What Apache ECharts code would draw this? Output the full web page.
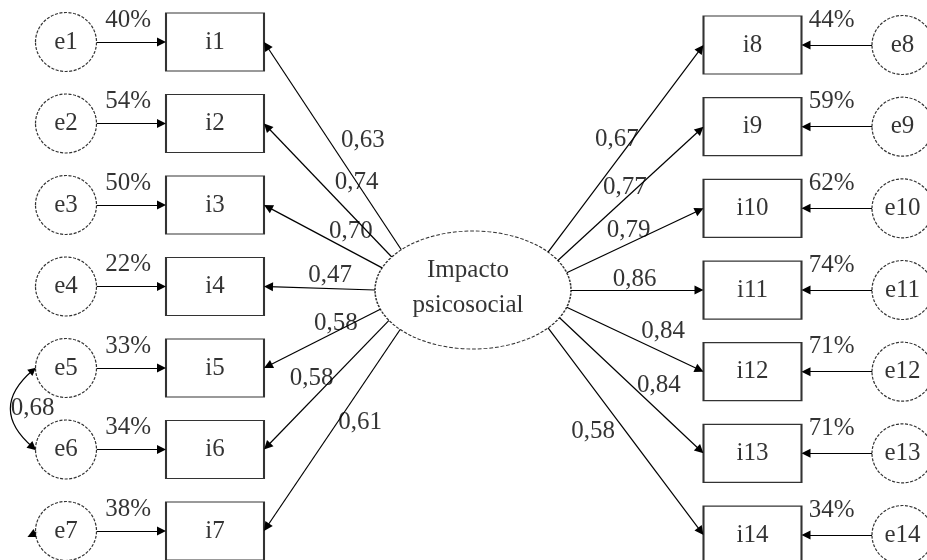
<!DOCTYPE html>
<html><head><meta charset="utf-8">
<script src="https://cdn.jsdelivr.net/npm/echarts@6/dist/echarts.min.js"></script>
<style>html,body{margin:0;padding:0;background:#fff}#c{width:927px;height:560px}</style>
</head><body><div id="c"></div>
<script>
// ---------- data ----------
const factorName = 'Impacto\npsicosocial';
const leftIndicators = ['i1','i2','i3','i4','i5','i6','i7'];
const leftErrors = ['e1','e2','e3','e4','e5','e6','e7'];
const leftLoadings = [0.63,0.74,0.70,0.47,0.58,0.58,0.61];
const leftR2 = [40,54,50,22,33,34,38];
const rightIndicators = ['i8','i9','i10','i11','i12','i13','i14'];
const rightErrors = ['e8','e9','e10','e11','e12','e13','e14'];
const rightLoadings = [0.67,0.77,0.79,0.86,0.84,0.84,0.58];
const rightR2 = [44,59,62,74,71,71,34];
const covErrors = ['e5','e6'];
const covValue = 0.68;

// ---------- layout (positions / styles) ----------
const FONT = '"Liberation Serif","Times New Roman",serif';
const FS = 25;
const TXT = '#000';
const LAY = {
  left:  {y0: 42, step: 81.5, errX: 66, boxX: 215},
  right: {y0: 45, step: 81.67, errX: 902.5, boxX: 752.5},
  boxW: 98, boxH: 58, errW: 61, errH: 59,
  factor: {x: 473, y: 290, rx: 98, ry: 59},
  leftAngles: [137,146,158,180,199,211,222],
  rightAngles: [40,30,17,0,-17,-28,-40],
  // [t along edge, dx, dy]
  leftLab: [[.527,34,0],[.556,36,0],[.587,38,0],[.405,0,-13],[.237,-17,0],[.45,-21,0],[.463,23,0]],
  rightLab: [[.546,-16,0],[.549,-13,0],[.452,0,-13],[.48,0,-11],[.704,0,-21],[.496,28,0],[.502,-33,0]],
  pctLeft: {dx: -3, dy: -22}, pctRight: {dx: -5, dy: -25},
  arrowBack: 4.5, covCurv: -0.585
};
const fmt = v => v.toFixed(2).replace('.', ',');
const ellipsePath = 'path://M0,50A50,50,0,1,1,100,50A50,50,0,1,1,0,50Z';

const nodes = [], lines = [], texts = [];
const errPos = {};
function ePt(deg){ const a = deg*Math.PI/180; const f = LAY.factor;
  return [f.x + f.rx*Math.cos(a), f.y - f.ry*Math.sin(a)]; }
function shorten(s, e, d){ const dx=e[0]-s[0], dy=e[1]-s[1], L=Math.hypot(dx,dy);
  return [e[0]-dx/L*d, e[1]-dy/L*d]; }
const boxStyle = {color:'#fff', borderColor:'#000', borderWidth:1.6};
const circStyle = {color:'#fff', borderColor:'#000', borderWidth:1.2, borderType:[3,1.5]};

// factor
nodes.push({name: factorName, value:[LAY.factor.x, LAY.factor.y], symbol: ellipsePath,
  symbolSize:[LAY.factor.rx*2, LAY.factor.ry*2], itemStyle: circStyle,
  label:{lineHeight:35, offset:[-5,-2]}});

function side(items, errs, loads, r2, cfg, angles, labs, pct, isLeft){
  items.forEach((name, i) => {
    const y = cfg.y0 + i*cfg.step;
    nodes.push({name, value:[cfg.boxX, y], symbol:'rect', symbolSize:[LAY.boxW, LAY.boxH], itemStyle: boxStyle});
    nodes.push({name: errs[i], value:[cfg.errX, y], symbol: ellipsePath, symbolSize:[LAY.errW, LAY.errH], itemStyle: circStyle});
    errPos[errs[i]] = [cfg.errX, y];
    // error -> indicator
    const es = isLeft ? [cfg.errX + LAY.errW/2, y] : [cfg.errX - LAY.errW/2, y];
    const be = isLeft ? [cfg.boxX - LAY.boxW/2, y] : [cfg.boxX + LAY.boxW/2, y];
    lines.push({coords:[es, shorten(es, be, LAY.arrowBack)]});
    texts.push({value:[(es[0]+be[0])/2 + pct.dx, y + pct.dy], text: r2[i] + '%'});
    // factor -> indicator
    const s = ePt(angles[i]);
    const e = isLeft ? [cfg.boxX + LAY.boxW/2, y] : [cfg.boxX - LAY.boxW/2, y];
    lines.push({coords:[s, shorten(s, e, LAY.arrowBack)]});
    const [t, dx, dy] = labs[i];
    texts.push({value:[s[0] + t*(e[0]-s[0]) + dx, s[1] + t*(e[1]-s[1]) + dy], text: fmt(loads[i])});
  });
}
side(leftIndicators, leftErrors, leftLoadings, leftR2, LAY.left, LAY.leftAngles, LAY.leftLab, LAY.pctLeft, true);
side(rightIndicators, rightErrors, rightLoadings, rightR2, LAY.right, LAY.rightAngles, LAY.rightLab, LAY.pctRight, false);

// covariance e5 <-> e6
(function(){
  const a = errPos[covErrors[0]], b = errPos[covErrors[1]];
  const p1 = [a[0]-LAY.errW/2, a[1]], p2 = [b[0]-LAY.errW/2, b[1]];
  const c = LAY.covCurv;
  const cp = [(p1[0]+p2[0])/2 - (p1[1]-p2[1])*c, (p1[1]+p2[1])/2 - (p2[0]-p1[0])*c];
  const q1 = shorten(cp, p1, 3.5), q2 = shorten(cp, p2, 3.5);
  lines.push({coords:[q1, q2], symbol:['triangle','triangle'], lineStyle:{curveness:c}});
  const apex = [0.25*p1[0]+0.5*cp[0]+0.25*p2[0], 0.25*p1[1]+0.5*cp[1]+0.25*p2[1]];
  texts.push({value:[apex[0]+21, apex[1]], text: fmt(covValue)});
})();
// small residual arrow on last left error
(function(){
  const p = errPos[leftErrors[leftErrors.length-1]];
  const s = [p[0]-LAY.errW/2+2, p[1]+1];
  lines.push({coords:[s, [s[0]-6, s[1]+3]]});
})();

const chart = echarts.init(document.getElementById('c'), null, {renderer:'canvas'});
chart.setOption({
  animation:false,
  backgroundColor:'#fff',
  grid:{left:0, right:0, top:0, bottom:0, containLabel:false},
  xAxis:{type:'value', min:0, max:927, show:false},
  yAxis:{type:'value', min:0, max:560, inverse:true, show:false},
  series:[
    {type:'lines', coordinateSystem:'cartesian2d', z:2, symbol:['none','triangle'], symbolSize:[8,9],
     lineStyle:{color:'#000', width:1.2, opacity:1, curveness:0}, data: lines, silent:true},
    {type:'scatter', z:3, clip:false, data: nodes, silent:true,
     label:{show:true, position:'inside', formatter: p => p.name, color:TXT, fontFamily:FONT, fontSize:FS}},
    {type:'scatter', z:4, clip:false, symbolSize:1, itemStyle:{color:'rgba(0,0,0,0)'}, data: texts, silent:true,
     label:{show:true, position:'inside', formatter: p => p.data.text, color:TXT, fontFamily:FONT, fontSize:FS}}
  ]
});
</script></body></html>
